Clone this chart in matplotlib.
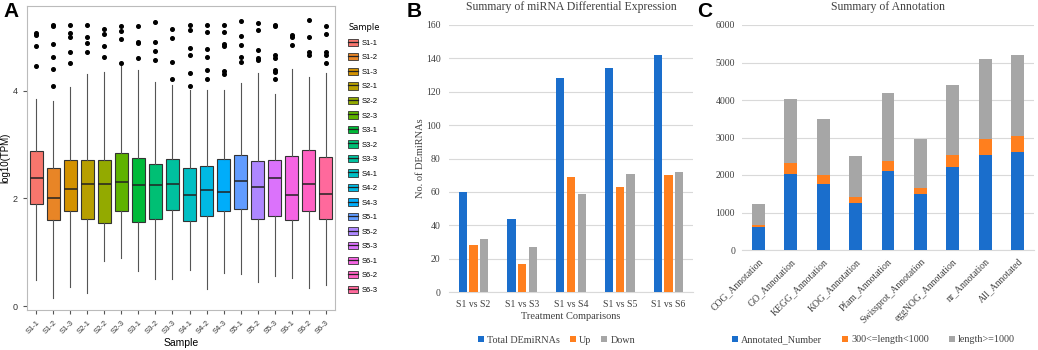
import numpy as np
import matplotlib
matplotlib.use("Agg")
import matplotlib.pyplot as plt
from matplotlib.patches import Patch
from matplotlib.lines import Line2D

# ---- Panel A: boxplot de log10(TPM) por muestra ----
muestras = ["S1-1", "S1-2", "S1-3", "S2-1", "S2-2", "S2-3", "S3-1", "S3-2", "S3-3",
            "S4-1", "S4-2", "S4-3", "S5-1", "S5-2", "S5-3", "S6-1", "S6-2", "S6-3"]
q1 = [1.89, 1.60, 1.76, 1.61, 1.55, 1.76, 1.56, 1.61, 1.78,
      1.58, 1.68, 1.76, 1.80, 1.61, 1.67, 1.60, 1.76, 1.62]
mediana = [2.38, 2.01, 2.18, 2.27, 2.26, 2.30, 2.24, 2.25, 2.27,
           2.06, 2.15, 2.11, 2.32, 2.22, 2.37, 2.06, 2.26, 2.09]
q3 = [2.88, 2.56, 2.72, 2.71, 2.71, 2.85, 2.75, 2.63, 2.74,
      2.56, 2.61, 2.74, 2.81, 2.69, 2.72, 2.79, 2.89, 2.77]
bigote_alto = [3.84, 3.81, 4.07, 4.31, 4.35, 4.54, 4.38, 4.16, 4.10,
               4.01, 4.01, 4.01, 4.15, 4.33, 3.94, 4.41, 4.26, 4.32]
bigote_bajo = [0.48, 0.15, 0.35, 0.25, 0.84, 0.90, 0.66, 0.50, 0.50,
               0.68, 0.32, 0.62, 0.59, 0.45, 0.56, 0.53, 0.33, 0.39]
atipicos = [
    [5.07, 5.03, 4.82, 4.45],
    [5.22, 5.19, 4.86, 4.62, 4.40, 4.08],
    [5.22, 5.07, 5.00, 4.72, 4.51],
    [5.22, 5.00, 4.88, 4.72],
    [5.15, 5.05, 4.82, 4.63],
    [5.19, 5.10, 4.95, 4.52],
    [5.20, 4.91, 4.88, 4.60],
    [5.27, 4.90, 4.74, 4.57],
    [5.14, 4.97, 4.54, 4.22],
    [5.22, 5.13, 4.79, 4.66, 4.33, 4.09],
    [5.22, 5.08, 4.77, 4.63, 4.38, 4.21],
    [5.21, 5.08, 4.87, 4.82, 4.37, 4.31],
    [5.30, 5.02, 4.85, 4.63, 4.54],
    [5.25, 5.13, 4.76, 4.60, 4.57],
    [5.22, 5.19, 4.66, 4.60, 4.38, 4.35, 4.22],
    [5.03, 5.00, 4.85],
    [5.31, 5.00, 4.72, 4.66],
    [5.19, 5.05, 4.72, 4.66, 4.52],
]

# ---- Panel B: miRNAs diferenciales ----
comparaciones = ["S1 vs S2", "S1 vs S3", "S1 vs S4", "S1 vs S5", "S1 vs S6"]
total_demirnas = [60, 44, 128, 134, 142]
up = [28, 17, 69, 63, 70]
down = [32, 27, 59, 71, 72]

# ---- Panel C: anotación ----
anotaciones = ["COG_Annotation", "GO_Annotation", "KEGG_Annotation", "KOG_Annotation",
               "Pfam_Annotation", "Swissprot_Annotation", "eggNOG_Annotation",
               "nr_Annotation", "All_Annotated"]
annotated_number = [610, 2027, 1760, 1245, 2107, 1502, 2204, 2542, 2613]
largo_300_1000 = [50, 284, 231, 160, 275, 160, 320, 409, 427]
largo_1000 = [580, 1716, 1503, 1093, 1805, 1307, 1885, 2134, 2169]


def hcl_color(h, c=100.0, l=65.0):
    # paleta tipo ggplot (HCL -> sRGB)
    xn, yn, zn = 95.047, 100.0, 108.883
    un = 4 * xn / (xn + 15 * yn + 3 * zn)
    vn = 9 * yn / (xn + 15 * yn + 3 * zn)
    u = c * np.cos(np.radians(h))
    v = c * np.sin(np.radians(h))
    Y = yn * ((l + 16) / 116) ** 3
    up_ = u / (13 * l) + un
    vp_ = v / (13 * l) + vn
    X = 9 * Y * up_ / (4 * vp_)
    Z = -X / 3 - 5 * Y + 3 * Y / vp_
    xyz = np.array([X, Y, Z]) / 100
    m = np.array([[3.2406, -1.5372, -0.4986],
                  [-0.9689, 1.8758, 0.0415],
                  [0.0557, -0.2040, 1.0570]])
    rgb = m @ xyz
    rgb = np.where(rgb <= 0.0031308, 12.92 * rgb, 1.055 * np.clip(rgb, 0, None) ** (1 / 2.4) - 0.055)
    return tuple(np.clip(rgb, 0, 1))


n = len(muestras)
colores_a = [hcl_color(15 + 360 * i / n) for i in range(n)]

fig = plt.figure(figsize=(10.38, 3.5), dpi=100)

# ================= A =================
axA = fig.add_axes([27 / 1038, 1 - 310 / 350, 308 / 1038, 304 / 350])
stats = []
for i in range(n):
    stats.append(dict(q1=q1[i], med=mediana[i], q3=q3[i], whislo=bigote_bajo[i],
                      whishi=bigote_alto[i], fliers=atipicos[i], label=muestras[i]))
bp = axA.bxp(stats, positions=np.arange(1, n + 1), widths=0.75, patch_artist=True,
             showcaps=False,
             boxprops=dict(edgecolor="#333333", linewidth=0.8),
             medianprops=dict(color="#222222", linewidth=1.1),
             whiskerprops=dict(color="#555555", linewidth=0.8),
             flierprops=dict(marker="o", markersize=2.6, markerfacecolor="black",
                             markeredgecolor="black"))
for caja, col in zip(bp["boxes"], colores_a):
    caja.set_facecolor(col)
axA.set_xlim(0.45, n + 0.55)
axA.set_ylim(-0.07, 5.57)
axA.set_yticks([0, 2, 4])
axA.set_xticks(np.arange(1, n + 1))
axA.set_xticklabels(muestras, rotation=45, ha="right", rotation_mode="anchor",
                    fontsize=5.5, family="Liberation Sans", color="#333333")
axA.tick_params(axis="y", labelsize=6.5, colors="#555555", labelcolor="#333333", length=3)
axA.tick_params(axis="x", colors="#555555", labelcolor="#333333", length=3)
for s in axA.spines.values():
    s.set_color("#BBBBBB")
    s.set_linewidth(0.8)
for t in axA.get_yticklabels():
    t.set_family("Liberation Sans")
axA.set_xlabel("Sample", fontsize=7.5, family="Liberation Sans", labelpad=2)
axA.set_ylabel("log10(TPM)", fontsize=7, family="Liberation Sans", labelpad=2)

handles = [(Patch(facecolor=c, edgecolor="#333333", linewidth=0.6),
            Line2D([], [], color="#222222", linewidth=0.9)) for c in colores_a]
fig.legend(handles, muestras, loc="upper left", bbox_to_anchor=(343 / 1038, 1 - 18 / 350),
           frameon=False, title="Sample", title_fontsize=6,
           prop={"family": "Liberation Sans", "size": 5.5},
           handlelength=1.3, handleheight=1.1, labelspacing=0.82, handletextpad=0.4,
           borderpad=0.2, alignment="left")

fig.text(3 / 1038, 1 - 2 / 350, "A", fontsize=15, fontweight="bold", va="top",
         family="Liberation Sans")

# ================= B =================
serif = "Liberation Serif"
azul, naranja, gris = "#1A6ECC", "#FF7F1E", "#A6A6A6"
axB = fig.add_axes([449 / 1038, 1 - 292 / 350, 244 / 1038, 267 / 350])
x = np.arange(len(comparaciones))
ancho = 0.17
axB.bar(x - 0.22, total_demirnas, ancho, color=azul, label="Total DEmiRNAs", zorder=3)
axB.bar(x, up, ancho, color=naranja, label="Up", zorder=3)
axB.bar(x + 0.22, down, ancho, color=gris, label="Down", zorder=3)
axB.set_xlim(-0.5, len(comparaciones) - 0.5)
axB.set_ylim(0, 160)
axB.set_yticks(np.arange(0, 161, 20))
axB.set_xticks(x)
axB.set_xticklabels(comparaciones)
axB.grid(axis="y", color="#D9D9D9", linewidth=0.8, zorder=0)
for lado in ["top", "right", "left"]:
    axB.spines[lado].set_visible(False)
axB.spines["bottom"].set_color("#D9D9D9")
axB.tick_params(length=0, labelsize=7, colors="#404040", pad=6)
for t in axB.get_xticklabels() + axB.get_yticklabels():
    t.set_family(serif)
axB.set_xlabel("Treatment Comparisons", fontsize=7.5, family=serif, color="#404040", labelpad=2)
axB.set_ylabel("No. of DEmiRNAs", fontsize=7.5, family=serif, color="#404040", labelpad=1)
axB.set_title("Summary of miRNA Differential Expression", fontsize=8.5, family=serif,
              color="#404040", pad=11)
axB.legend(loc="center", bbox_to_anchor=(0.44, -0.18), ncol=3, frameon=False,
           prop={"family": serif, "size": 7.3}, handlelength=0.6, handleheight=0.6,
           handletextpad=0.3, columnspacing=1.0, labelcolor="#404040")
fig.text(407 / 1038, 1 - 2 / 350, "B", fontsize=15, fontweight="bold", va="top",
         family="Liberation Sans")

# ================= C =================
axC = fig.add_axes([742 / 1038, 1 - 250 / 350, 292 / 1038, 225 / 350])
xc = np.arange(len(anotaciones))
base2 = np.array(annotated_number) + np.array(largo_300_1000)
axC.bar(xc, annotated_number, 0.4, color=azul, label="Annotated_Number", zorder=3)
axC.bar(xc, largo_300_1000, 0.4, bottom=annotated_number, color=naranja,
        label="300<=length<1000", zorder=3)
axC.bar(xc, largo_1000, 0.4, bottom=base2, color=gris, label="length>=1000", zorder=3)
axC.set_xlim(-0.5, len(anotaciones) - 0.5)
axC.set_ylim(0, 6000)
axC.set_yticks(np.arange(0, 6001, 1000))
axC.set_xticks(xc)
axC.set_xticklabels(anotaciones, rotation=45, ha="right", rotation_mode="anchor")
axC.grid(axis="y", color="#D9D9D9", linewidth=0.8, zorder=0)
for lado in ["top", "right", "left"]:
    axC.spines[lado].set_visible(False)
axC.spines["bottom"].set_color("#D9D9D9")
axC.tick_params(length=0, labelsize=7, colors="#404040", pad=5)
for t in axC.get_xticklabels() + axC.get_yticklabels():
    t.set_family(serif)
axC.set_title("Summary of Annotation", fontsize=8.5, family=serif, color="#404040", pad=11)
axC.legend(loc="center", bbox_to_anchor=(0.45, -0.4), ncol=3, frameon=False,
           prop={"family": serif, "size": 7.3}, handlelength=0.6, handleheight=0.6,
           handletextpad=0.3, columnspacing=2.0, labelcolor="#404040")
fig.text(697 / 1038, 1 - 2 / 350, "C", fontsize=15, fontweight="bold", va="top",
         family="Liberation Sans")

fig.savefig("out.png", dpi=100)
